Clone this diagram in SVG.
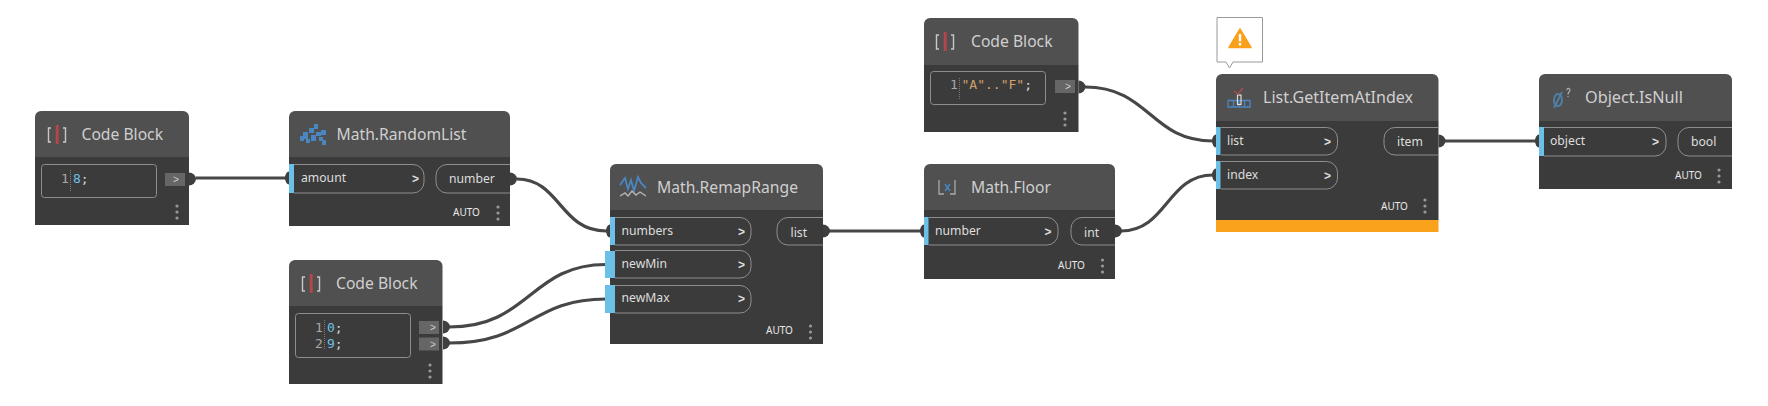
<svg xmlns="http://www.w3.org/2000/svg" width="1768" height="406" viewBox="0 0 1768 406">
<defs>
<style>
.hd{fill:#505050}.bd{fill:#3b3b3b}.sep{fill:#444}
.t{font-family:"Noto Sans","Open Sans","Liberation Sans",sans-serif;font-size:16.5px;fill:#cfcfcf}
.p{font-family:"Noto Sans","Open Sans","Liberation Sans",sans-serif;font-size:12.2px;fill:#dedede}
.a{font-family:"Noto Sans","Liberation Sans",sans-serif;font-size:10px;fill:#e8e8e8}
.c{font-family:"DejaVu Sans Mono","Liberation Mono",monospace;font-size:13px}
.n{fill:#a8a8a8}.b{fill:#6fc0e6}.o{fill:#d2a26c}.w{fill:#d8d8d8}
.pill,.box{fill:none;stroke:#8e8e8e;stroke-width:1}
.blue{fill:#6ac0e6}.chip{fill:#666}
.ch{font-family:"Liberation Sans",sans-serif;font-size:12px;fill:#dedede;font-weight:bold}
.chs{font-family:"Liberation Sans",sans-serif;font-size:10px;fill:#cfcfcf}
.dot{fill:#999}
.pd{fill:#3f3f3f}
.wire{fill:none;stroke:#474747;stroke-width:3.200}
.ib{fill:none;stroke:#c8c8c8;stroke-width:1.400}
.ir{fill:#b0474a}
.sl{stroke:#7a7a7a;stroke-width:1;stroke-dasharray:1 1;fill:none}
</style>
<g id="dots"><circle cx="0" cy="0" r="1.600" class="dot"/><circle cx="0" cy="6" r="1.600" class="dot"/><circle cx="0" cy="12" r="1.600" class="dot"/></g>
<g id="cbi"><path class="ib" d="M-6 2H-8.500V16H-6M6 2H8.500V16H6"/><rect x="-1.300" y="-1" width="3" height="19" class="ir"/></g>
<path id="od" class="pd" d="M0 -6.500A7 6.500 0 0 1 0 6.500Z"/>
<path id="id" class="pd" d="M0 -6.500A4 6.500 0 0 0 0 6.500Z"/>
</defs>

<g id="connectors">
<path class="wire" d="M196 178H286"/>
<path class="wire" d="M517 179C560 179 560 231 606 231"/>
<path class="wire" d="M449 327C530 327 530 264.500 606 264.500"/>
<path class="wire" d="M449 343C530 343 530 299 606 299"/>
<path class="wire" d="M829 231H921"/>
<path class="wire" d="M1121 231C1167 231 1167 175 1213 175"/>
<path class="wire" d="M1085 87C1150 87 1150 141 1213 141"/>
<path class="wire" d="M1444 141H1536"/>
</g>

<g id="node-codeblock-8">
<path class="hd" d="M35 157V117a6 6 0 0 1 6-6H183a6 6 0 0 1 6 6V157Z"/>
<rect class="bd" x="35" y="157" width="154" height="68"/>
<use href="#cbi" x="57" y="126"/>
<text class="t" x="81.500" y="140" textLength="81.500" lengthAdjust="spacingAndGlyphs">Code Block</text>
<rect class="box" x="41.500" y="164.500" width="115" height="33" rx="3"/>
<text class="c n" x="61" y="183">1</text><path class="sl" d="M70.500 170V192"/>
<text class="c" x="73" y="183"><tspan class="b">8</tspan><tspan class="w">;</tspan></text>
<rect class="chip" x="165" y="173" width="20" height="13"/><text class="chs" x="173" y="183">&gt;</text>
<use href="#od" x="189" y="179"/>
<use href="#dots" x="177" y="206"/>
</g>

<g id="node-randomlist">
<path class="hd" d="M289 157V117a6 6 0 0 1 6-6H504a6 6 0 0 1 6 6V157Z"/>
<rect class="bd" x="289" y="157" width="221" height="69"/>
<g fill="#4a86c0"><rect x="300" y="136" width="4" height="5"/><rect x="303" y="132" width="5" height="7"/><rect x="306" y="139" width="4" height="4"/><rect x="309" y="128" width="5" height="5"/><rect x="311" y="135" width="5" height="6"/><rect x="314" y="124" width="4" height="5"/><rect x="316" y="132" width="5" height="4"/><rect x="319" y="137" width="4" height="4"/><rect x="321" y="130" width="5" height="5"/><rect x="322" y="140" width="4" height="5"/></g>
<text class="t" x="336.500" y="140" textLength="130" lengthAdjust="spacingAndGlyphs">Math.RandomList</text>
<rect class="blue" x="289" y="164" width="5" height="29"/>
<path class="pill" d="M294 164.500H413a11 11 0 0 1 11 11V182a11 11 0 0 1-11 11H294"/>
<text class="p" x="301" y="182">amount</text><text class="ch" x="412" y="183">&gt;</text>
<path class="pill" d="M510 164.500H447a11 11 0 0 0-11 11V182a11 11 0 0 0 11 11H510"/>
<text class="p" x="449" y="183">number</text>
<use href="#id" x="289" y="178"/><use href="#od" x="510" y="179"/>
<text class="a" x="453" y="216">AUTO</text>
<use href="#dots" x="498" y="207"/>
</g>

<g id="node-codeblock-09">
<path class="hd" d="M289 306V266a6 6 0 0 1 6-6H436.500a6 6 0 0 1 6 6V306Z"/>
<rect class="bd" x="289" y="306" width="153.500" height="78"/>
<use href="#cbi" x="311" y="275"/>
<text class="t" x="336" y="289" textLength="81.500" lengthAdjust="spacingAndGlyphs">Code Block</text>
<rect class="box" x="295.500" y="313.500" width="115" height="44" rx="3"/>
<text class="c n" x="315" y="332">1</text><text class="c n" x="315" y="348">2</text><path class="sl" d="M324.500 320V350"/>
<text class="c" x="327" y="332"><tspan class="b">0</tspan><tspan class="w">;</tspan></text>
<text class="c" x="327" y="348"><tspan class="b">9</tspan><tspan class="w">;</tspan></text>
<rect class="chip" x="419" y="321" width="20" height="13"/><text class="chs" x="430" y="331">&gt;</text>
<rect class="chip" x="419" y="337.500" width="20" height="13"/><text class="chs" x="430" y="347.500">&gt;</text>
<use href="#od" x="443" y="327"/><use href="#od" x="443" y="343"/>
<use href="#dots" x="430" y="365"/>
</g>

<g id="node-remaprange">
<path class="hd" d="M610 210V170a6 6 0 0 1 6-6H817a6 6 0 0 1 6 6V210Z"/>
<rect class="bd" x="610" y="210" width="213" height="134"/>
<path fill="none" stroke="#4a86c0" stroke-width="1.800" d="M620 185L625 178L628 189L631 180L634 191L638 177L641 183L646 188"/>
<path fill="none" stroke="#b5b5b5" stroke-width="1.400" d="M620 196L625 193L628 196L632 191L636 195L640 192L646 196"/>
<text class="t" x="657" y="193" textLength="141" lengthAdjust="spacingAndGlyphs">Math.RemapRange</text>
<rect class="blue" x="610" y="217" width="5" height="28"/>
<rect class="blue" x="605" y="251" width="10" height="27"/>
<rect class="blue" x="605" y="285" width="10" height="28"/>
<path class="pill" d="M615 217.500H740a11 11 0 0 1 11 11V234a11 11 0 0 1-11 11H615"/>
<path class="pill" d="M615 250.500H740a11 11 0 0 1 11 11V267a11 11 0 0 1-11 11H615"/>
<path class="pill" d="M615 285.500H740a11 11 0 0 1 11 11V302a11 11 0 0 1-11 11H615"/>
<text class="p" x="621.500" y="235">numbers</text><text class="ch" x="738" y="236">&gt;</text>
<text class="p" x="621.500" y="268">newMin</text><text class="ch" x="738" y="269">&gt;</text>
<text class="p" x="621.500" y="302">newMax</text><text class="ch" x="738" y="303">&gt;</text>
<path class="pill" d="M823 217.500H788a11 11 0 0 0-11 11V234a11 11 0 0 0 11 11H823"/>
<text class="p" x="790.500" y="237">list</text>
<use href="#id" x="610" y="231"/><use href="#od" x="823" y="231"/>
<text class="a" x="766" y="334">AUTO</text>
<use href="#dots" x="810.500" y="326"/>
</g>

<g id="node-floor">
<path class="hd" d="M924 210V170a6 6 0 0 1 6-6H1109a6 6 0 0 1 6 6V210Z"/>
<rect class="bd" x="924" y="210" width="191" height="69"/>
<path fill="none" stroke="#aaa" stroke-width="1.300" d="M939 180V194H944M955 180V194H950"/>
<path fill="none" stroke="#4a86c0" stroke-width="1.400" d="M945 184L950 191M950 184L945 191"/>
<text class="t" x="971" y="193" textLength="80" lengthAdjust="spacingAndGlyphs">Math.Floor</text>
<rect class="blue" x="924" y="217" width="4.500" height="28"/>
<path class="pill" d="M929 217.500H1047a11 11 0 0 1 11 11V234a11 11 0 0 1-11 11H929"/>
<text class="p" x="935" y="235">number</text><text class="ch" x="1044.500" y="236">&gt;</text>
<path class="pill" d="M1115 217.500H1082a11 11 0 0 0-11 11V234a11 11 0 0 0 11 11H1115"/>
<text class="p" x="1084" y="237">int</text>
<use href="#id" x="924" y="231"/><use href="#od" x="1115" y="231"/>
<text class="a" x="1058" y="269">AUTO</text>
<use href="#dots" x="1102.500" y="260"/>
</g>

<g id="node-codeblock-af">
<path class="hd" d="M924 65V24a6 6 0 0 1 6-6H1072.500a6 6 0 0 1 6 6V65Z"/>
<rect class="bd" x="924" y="65" width="154.500" height="67"/>
<use href="#cbi" x="945" y="33"/>
<text class="t" x="971" y="47" textLength="81.500" lengthAdjust="spacingAndGlyphs">Code Block</text>
<rect class="box" x="930.500" y="71.500" width="115" height="33" rx="3"/>
<text class="c n" x="950" y="89">1</text><path class="sl" d="M959.500 78V100"/>
<text class="c" x="961.500" y="89"><tspan class="o">"A".."F"</tspan><tspan class="w">;</tspan></text>
<rect class="chip" x="1055" y="80" width="20" height="13"/><text class="chs" x="1065" y="90">&gt;</text>
<use href="#od" x="1078.500" y="87"/>
<use href="#dots" x="1065" y="113"/>
</g>

<g id="node-getitematindex">
<g id="warning-bubble">
<path fill="#fff" stroke="#9a9a9a" d="M1217 17.500H1262.500V62H1233L1229.500 68L1226 62H1217Z"/>
<path fill="#f9a11b" stroke="#f9a11b" stroke-width="1.500" stroke-linejoin="round" d="M1240 29L1251 47.500H1229Z"/>
<rect x="1238.800" y="34" width="2.400" height="7.500" fill="#fff"/><rect x="1238.800" y="43" width="2.400" height="2.500" fill="#fff"/>
</g>
<path class="hd" d="M1216 121V80a6 6 0 0 1 6-6H1432.500a6 6 0 0 1 6 6V121Z"/>
<rect class="bd" x="1216" y="121" width="222.500" height="99"/>
<rect fill="#faa21b" x="1216" y="220" width="222.500" height="12"/>
<path fill="none" stroke="#4a86c0" stroke-width="1.300" d="M1228 100.500H1250V107H1228ZM1233.500 100.500V107M1239 100.500V107M1244.500 100.500V107"/>
<rect x="1237.500" y="95" width="3.500" height="9.500" fill="none" stroke="#ddd" stroke-width="1.200"/>
<path fill="none" stroke="#a8514f" stroke-width="1.500" d="M1234 91L1238 94L1243 88"/>
<text class="t" x="1263" y="103" textLength="150" lengthAdjust="spacingAndGlyphs">List.GetItemAtIndex</text>
<rect class="blue" x="1216" y="127" width="4.500" height="28"/>
<rect class="blue" x="1216" y="161" width="4.500" height="28"/>
<path class="pill" d="M1221 127.500H1326.500a11 11 0 0 1 11 11V144a11 11 0 0 1-11 11H1221"/>
<path class="pill" d="M1221 161.500H1326.500a11 11 0 0 1 11 11V178a11 11 0 0 1-11 11H1221"/>
<text class="p" x="1227" y="145">list</text><text class="ch" x="1324" y="146">&gt;</text>
<text class="p" x="1227" y="179">index</text><text class="ch" x="1324" y="180">&gt;</text>
<path class="pill" d="M1438.500 127.500H1395a11 11 0 0 0-11 11V144a11 11 0 0 0 11 11H1438.500"/>
<text class="p" x="1397" y="146">item</text>
<use href="#id" x="1216" y="141"/><use href="#id" x="1216" y="175"/><use href="#od" x="1438.500" y="141"/>
<text class="a" x="1381" y="210">AUTO</text>
<use href="#dots" x="1425" y="200"/>
</g>

<g id="node-isnull">
<path class="hd" d="M1539 121V80a6 6 0 0 1 6-6H1726a6 6 0 0 1 6 6V121Z"/>
<rect class="bd" x="1539" y="121" width="193" height="68"/>
<ellipse cx="1558" cy="100" rx="4" ry="6" fill="none" stroke="#4f7fa6" stroke-width="2"/>
<path fill="none" stroke="#4f7fa6" stroke-width="1.800" d="M1554 108L1562 92"/>
<path fill="none" stroke="#b5b5b5" stroke-width="1.100" d="M1566.500 90Q1567.500 88 1569 88.500Q1571 89.500 1569 92Q1568 93 1568 94.500M1568 96V97"/>
<text class="t" x="1585" y="103" textLength="98" lengthAdjust="spacingAndGlyphs">Object.IsNull</text>
<rect class="blue" x="1539" y="127" width="5" height="29"/>
<path class="pill" d="M1544 127.500H1655a11 11 0 0 1 11 11V145a11 11 0 0 1-11 11H1544"/>
<text class="p" x="1550" y="145">object</text><text class="ch" x="1652" y="146">&gt;</text>
<path class="pill" d="M1732 127.500H1689a11 11 0 0 0-11 11V145a11 11 0 0 0 11 11H1732"/>
<text class="p" x="1691" y="146">bool</text>
<use href="#id" x="1539" y="141"/>
<text class="a" x="1675" y="179">AUTO</text>
<use href="#dots" x="1719" y="170"/>
</g>
</svg>
